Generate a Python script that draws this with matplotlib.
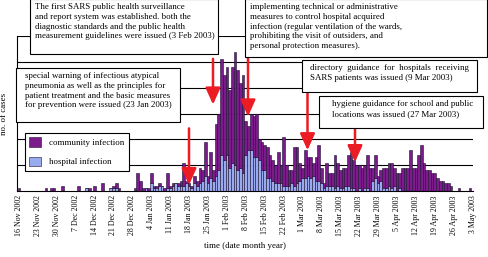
import numpy as np
import pandas as pd
import matplotlib
matplotlib.use("Agg")
import matplotlib.pyplot as plt
from matplotlib.patches import Rectangle

plt.rcParams['font.family'] = ['Liberation Serif', 'DejaVu Serif']

# daily counts from 16 Nov 2002 to 3 May 2003
dates = pd.date_range('2002-11-16', '2003-05-03', freq='D')

community = [
    1, 0, 0, 0, 0, 0, 0,
    0, 0, 0, 1, 0, 1, 1,
    0, 0, 2, 0, 0, 0, 0,
    0, 2, 0, 0, 0, 1, 0,
    2, 0, 0, 3, 0, 0, 0,
    1, 2, 1, 0, 0, 0, 0,
    0, 1, 7, 4, 1, 0, 1,
    4, 1, 1, 1, 0, 1, 6,
    1, 1, 0, 1, 2, 9, 1,
    1, 1, 3, 2, 6, 4, 13,
    3, 10, 4, 20, 22, 37, 33,
    34, 30, 37, 44, 39, 33, 38,
    13, 9, 14, 16, 17, 8, 11,
    10, 12, 9, 8, 7, 12, 7,
    19, 8, 6, 5, 15, 14, 7,
    4, 11, 7, 8, 5, 9, 14,
    6, 2, 9, 5, 5, 13, 9,
    7, 8, 7, 12, 14, 11, 10,
    9, 9, 9, 13, 9, 5, 9,
    3, 4, 8, 8, 9, 10, 7,
    7, 6, 9, 9, 9, 16, 9,
    9, 14, 18, 11, 8, 8, 7,
    7, 5, 4, 4, 3, 3, 2,
    0, 0, 1, 0, 0, 0, 1,
    0,
]
hospital = [
    0, 0, 0, 0, 0, 0, 0,
    0, 0, 0, 0, 0, 0, 0,
    0, 0, 0, 0, 0, 0, 0,
    0, 0, 0, 0, 1, 0, 0,
    0, 0, 0, 0, 0, 0, 1,
    1, 1, 0, 0, 0, 0, 0,
    0, 0, 0, 0, 0, 1, 0,
    3, 1, 1, 2, 2, 0, 1,
    1, 2, 3, 2, 2, 2, 3,
    2, 1, 3, 2, 3, 4, 6,
    3, 5, 4, 6, 8, 14, 12,
    14, 9, 11, 10, 8, 9, 7,
    14, 16, 16, 13, 13, 12, 8,
    8, 5, 5, 4, 3, 3, 3,
    2, 2, 2, 3, 2, 3, 4,
    5, 5, 6, 5, 6, 4, 4,
    3, 1, 2, 2, 2, 1, 2,
    1, 1, 2, 2, 1, 1, 0,
    1, 0, 1, 1, 0, 4, 5,
    3, 4, 1, 1, 2, 1, 2,
    0, 1, 0, 0, 0, 0, 0,
    0, 0, 0, 0, 0, 0, 0,
    0, 0, 0, 0, 0, 0, 0,
    0, 0, 0, 0, 0, 0, 0,
    0,
]

notes = [
    "The first SARS public health surveillance\nand report system was established. both the\n"
    "diagnostic standards and the public health\nmeasurement guidelines were issued (3 Feb 2003)",
    "implementing technical or administrative\nmeasures to control hospital acquired\n"
    "infection (regular ventilation of the wards,\nprohibiting the visit of outsiders, and\n"
    "personal protection measures).",
    "directory  guidance  for  hospitals  receiving\nSARS patients was issued (9 Mar 2003)",
    "hygiene guidance for school and public\nlocations was issued (27 Mar 2003)",
    "special warning of infectious atypical\npneumonia as well as the principles for\n"
    "patient treatment and the basic measures\nfor prevention were issued (23 Jan 2003)",
]

W, H = 488, 257
fig = plt.figure(figsize=(W / 100, H / 100), dpi=100)
ax = fig.add_axes([17 / W, 1 - 191 / H, (472.6 - 17) / W, (191 - 36) / H])

x = np.arange(len(dates))
purple = '#7d1a8c'
blue = '#9aaaee'
ax.bar(x, hospital, width=1.0, color=blue, edgecolor='#1a1030', linewidth=0.4, zorder=2,
       label='hospital infection')
ax.bar(x, community, width=1.0, bottom=hospital, color=purple, edgecolor='#1a1030',
       linewidth=0.4, zorder=2, label='community infection')

ax.set_xlim(-0.74, 168)
ax.set_ylim(0, 60)
ax.set_yticks(np.arange(10, 61, 10))
ax.set_yticklabels([])
ax.yaxis.grid(True, color='black', linewidth=0.8, zorder=0)
ax.set_axisbelow(True)
ax.tick_params(axis='y', length=0)

ticks = x[::7]
ax.set_xticks(ticks)
ax.set_xticklabels([f"{d.day} {d.strftime('%b %Y')}" for d in dates[::7]],
                   rotation=90, fontsize=5.7)
ax.tick_params(axis='x', length=0, pad=3)
ax.spines['top'].set_visible(False)
ax.spines['right'].set_visible(False)
ax.spines['left'].set_linewidth(0.8)
ax.spines['bottom'].set_linewidth(0.8)

ax.set_ylabel('no. of cases', fontsize=6.4, labelpad=3)
ax.set_xlabel('time (date month year)', fontsize=6.4, labelpad=4)

handles, labels = ax.get_legend_handles_labels()
leg = ax.legend(handles[::-1], labels[::-1], loc='upper left',
                bbox_to_anchor=(25 / W, 1 - 133 / H), bbox_transform=fig.transFigure,
                fontsize=6.4, frameon=True, fancybox=False, edgecolor='black',
                framealpha=1, labelspacing=1.1, handlelength=1.3, handleheight=1.2,
                handletextpad=0.9, borderpad=0.5, borderaxespad=0)
leg.get_frame().set_linewidth(0.8)


def px_to_day(px):
    return (px - 19) / 2.7


def py_to_val(py):
    return (191 - py) / 2.6


# red arrows (image x, start y, tip y)
arrows = [(213, 58, 104), (248, 57, 116), (189, 128, 185), (307.5, 92, 150), (355, 128, 162)]
for ax_x, y0, y1 in arrows:
    ax.annotate('', xy=(px_to_day(ax_x), py_to_val(y1)),
                xytext=(px_to_day(ax_x), py_to_val(y0)),
                arrowprops=dict(arrowstyle='-|>,head_length=1.0,head_width=0.45',
                                color='#ec1c24', lw=1.8, mutation_scale=10,
                                shrinkA=0, shrinkB=0),
                annotation_clip=False, zorder=5)

# annotation boxes: (left, top, right, bottom, text x, text y) in image pixels
boxes = [
    (30, -1, 218, 54, 35, 3),
    (245, -1, 487, 57, 250, 3),
    (302, 60, 477, 92, 310, 64),
    (319, 96, 483, 128, 332, 100),
    (16, 68, 180, 122, 25, 72),
]
for (l, t, r, b, tx, ty), note in zip(boxes, notes):
    fig.add_artist(Rectangle((l / W, 1 - b / H), (r - l) / W, (b - t) / H,
                             transform=fig.transFigure, facecolor='white',
                             edgecolor='black', linewidth=0.8, zorder=4))
    fig.text(tx / W, 1 - ty / H, note, ha='left', va='top', fontsize=6.4,
             linespacing=1.3, zorder=6)

fig.savefig('out.png', dpi=100)
